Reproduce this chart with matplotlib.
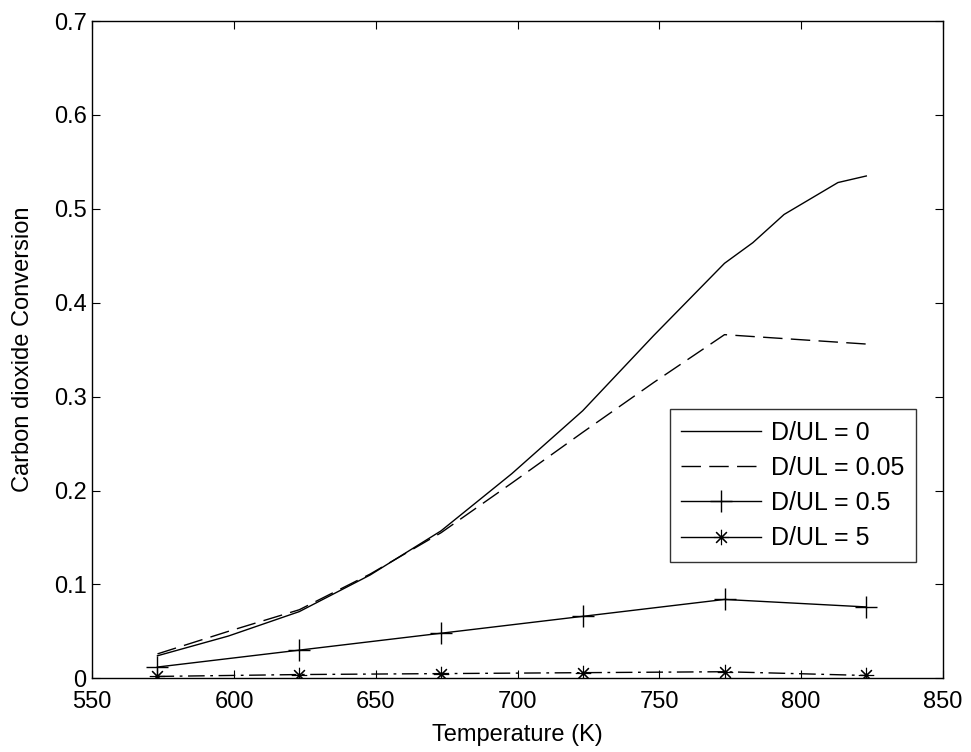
# CO2 conversion vs. temperature for different dispersion numbers D/UL
import numpy as np
import matplotlib.pyplot as plt

plt.rcParams['font.family'] = ['Liberation Sans', 'DejaVu Sans']

# D/UL = 0 (plug flow), finer temperature grid
T_0 = np.array([573, 598, 623, 648, 673, 698, 723, 748, 773, 783, 794, 813, 823])
X_0 = np.array([0.024, 0.045, 0.071, 0.110, 0.157, 0.218, 0.285, 0.365, 0.442,
                0.464, 0.494, 0.528, 0.535])

# D/UL = 0.05
T_005 = np.array([573, 598, 623, 648, 673, 698, 723, 748, 773, 823])
X_005 = np.array([0.026, 0.050, 0.073, 0.111, 0.155, 0.208, 0.262, 0.315, 0.366, 0.356])

# D/UL = 0.5 and D/UL = 5
T_pts = np.array([573, 623, 673, 723, 773, 823])
X_05 = np.array([0.012, 0.030, 0.048, 0.066, 0.084, 0.076])
X_5 = np.array([0.002, 0.004, 0.005, 0.006, 0.007, 0.003])

labels = ["D/UL = 0", "D/UL = 0.05", "D/UL = 0.5", "D/UL = 5"]

fig = plt.figure(figsize=(9.71, 7.52), dpi=100)
ax = fig.add_axes([0.095, 0.098, 0.876, 0.874])

ax.plot(T_0, X_0, "k-", lw=1.0, label=labels[0])
ax.plot(T_005, X_005, "k", ls=(0, (14, 6)), lw=1.0, label=labels[1])
ax.plot(T_pts, X_05, "k-", marker="+", ms=16, mew=1.0, lw=1.0, label=labels[2])
ax.plot(T_pts, X_5, "k", ls=(0, (12, 4, 2, 4)), marker=(8, 2, 0), ms=11,
        mew=0.8, lw=1.0, label=labels[3])

ax.set_xlim(550, 850)
ax.set_ylim(0, 0.7)
ax.set_xticks(np.arange(550, 851, 50))
ax.set_yticks(np.arange(0, 0.71, 0.1))
ax.set_yticklabels(["0", "0.1", "0.2", "0.3", "0.4", "0.5", "0.6", "0.7"])
ax.tick_params(direction="in", top=True, right=True, length=6, width=0.8,
               labelsize=17)
ax.tick_params(axis="x", pad=9)
ax.tick_params(axis="y", pad=4)
for s in ax.spines.values():
    s.set_linewidth(1.0)

ax.set_xlabel("Temperature (K)", fontsize=17, labelpad=8)
ax.set_ylabel("Carbon dioxide Conversion", fontsize=17, labelpad=14)

leg = ax.legend(loc="upper left", bbox_to_anchor=(0.679, 0.409), fontsize=18,
                handlelength=3.2, handletextpad=0.4, labelspacing=0.45,
                borderaxespad=0, frameon=True, fancybox=False, edgecolor="k",
                borderpad=0.45)
leg.get_frame().set_linewidth(1.0)
leg.get_lines()[3].set_linestyle("-")

plt.savefig("out.png", dpi=100)
